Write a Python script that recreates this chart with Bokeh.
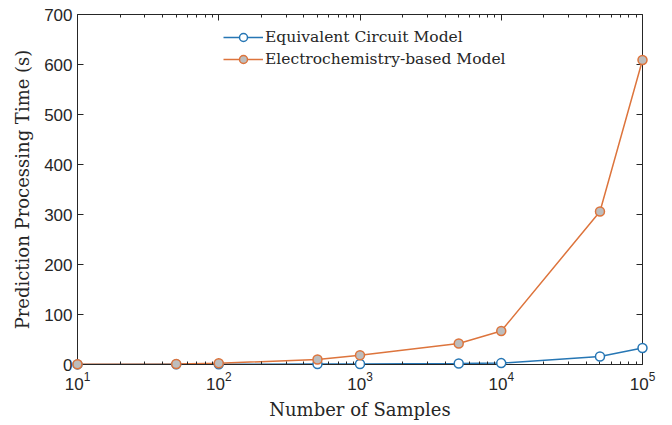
from bokeh.plotting import figure
from bokeh.models import (LogAxis, LinearAxis, FixedTicker, Range1d, Legend, LegendItem,
                          LogTickFormatter)
from bokeh.embed import file_html
from bokeh.resources import INLINE

samples = [10, 50, 100, 500, 1000, 5000, 10000, 50000, 100000]
ecm_time = [0.2, 0.3, 0.5, 0.8, 1.0, 2.0, 2.8, 16, 33]
ebm_time = [0.5, 1.0, 2.5, 10, 18.5, 42, 67, 306, 609]

x_major = [10, 100, 1000, 10000, 100000]
y_major = [0, 100, 200, 300, 400, 500, 600, 700]

BLUE = "#2676B4"
ORANGE = "#DD743C"
AXC = "#262626"
SERIF = "DejaVu Serif"
SANS = "Liberation Sans"

p = figure(width=672, height=425, x_axis_type="log", output_backend="svg",
           toolbar_location=None, x_range=Range1d(10, 1e5), y_range=Range1d(0, 700),
           min_border_left=77, min_border_right=30, min_border_top=14, min_border_bottom=61)
p.grid.visible = False
p.outline_line_color = None
p.background_fill_color = "white"
p.border_fill_color = "white"

minor = []
for d in [10, 100, 1000, 10000]:
    minor += [d * k for k in range(2, 10)]
xt = FixedTicker(ticks=x_major, minor_ticks=minor)
yt = FixedTicker(ticks=y_major)

def style(ax, labels=True):
    ax.axis_line_color = AXC
    ax.axis_line_width = 1
    ax.major_tick_in = 6
    ax.major_tick_out = 0
    ax.minor_tick_in = 3
    ax.minor_tick_out = 0
    ax.major_tick_line_color = AXC
    ax.minor_tick_line_color = AXC
    ax.major_label_text_font = SANS
    ax.major_label_text_font_size = "17px"
    ax.major_label_text_color = AXC
    if not labels:
        ax.major_label_text_font_size = "0px"
        ax.major_label_text_alpha = 0

xa = p.xaxis[0]
xa.ticker = xt
xa.formatter = LogTickFormatter()
style(xa)
xa.axis_label = "Number of Samples"
xa.axis_label_text_font = SERIF
xa.axis_label_text_font_style = "normal"
xa.axis_label_text_font_size = "18px"
xa.axis_label_text_color = AXC
xa.axis_label_standoff = 6
xa.major_label_standoff = 7

ya = p.yaxis[0]
ya.ticker = yt
style(ya)
ya.minor_tick_in = 0
ya.axis_label = "Prediction Processing Time (s)"
ya.axis_label_text_font = SERIF
ya.axis_label_text_font_style = "normal"
ya.axis_label_text_font_size = "18px"
ya.axis_label_text_color = AXC
ya.axis_label_standoff = 8
ya.major_label_standoff = 5

top = LogAxis(ticker=xt, major_label_text_font_size="0px")
style(top, labels=False)
p.add_layout(top, "above")
right = LinearAxis(ticker=yt, major_label_text_font_size="0px")
style(right, labels=False)
right.minor_tick_in = 0
p.add_layout(right, "right")

l1 = p.line(samples, ecm_time, line_color=BLUE, line_width=1.5)
s1 = p.scatter(samples, ecm_time, marker="circle", size=9, line_color=BLUE, line_width=1.5,
               fill_color="white", level="overlay")
l2 = p.line(samples, ebm_time, line_color=ORANGE, line_width=1.5)
s2 = p.scatter(samples, ebm_time, marker="circle", size=9, line_color=ORANGE, line_width=1.5,
               fill_color="#BDBDBD", level="overlay")

legend = Legend(items=[LegendItem(label="Equivalent Circuit Model", renderers=[l1, s1]),
                       LegendItem(label="Electrochemistry-based Model", renderers=[l2, s2])],
                location=(146, 295), orientation="vertical")
legend.border_line_color = None
legend.background_fill_alpha = 0
legend.label_text_font = SERIF
legend.label_text_font_size = "15.5px"
legend.label_text_color = AXC
legend.glyph_width = 40
legend.glyph_height = 20
legend.label_height = 20
legend.spacing = 2
legend.padding = 0
legend.margin = 0
legend.label_standoff = 2
p.add_layout(legend, "center")

open("out.html", "w").write(file_html(p, INLINE))
